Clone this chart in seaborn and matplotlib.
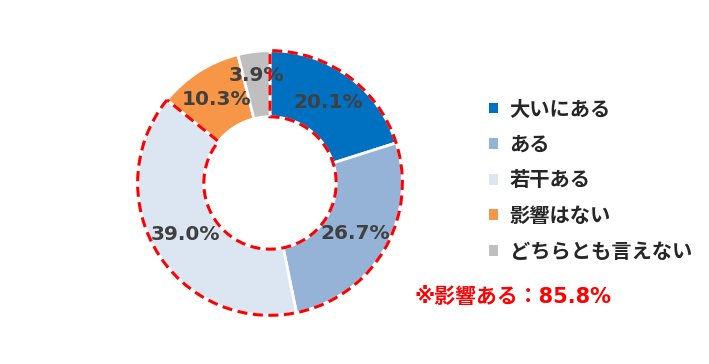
import matplotlib
matplotlib.use("Agg")
import matplotlib.pyplot as plt
from matplotlib.patches import Wedge, Patch
import numpy as np
import seaborn as sns

categories = ["大いにある", "ある", "若干ある", "影響はない", "どちらとも言えない"]
values = [20.1, 26.7, 39.0, 10.3, 3.9]
colors = ["#0070C0", "#95B3D7", "#DCE6F2", "#F79646", "#BFBFBF"]
annotation = "※影響ある：85.8%"
highlight_count = 3

sns.set_theme(style="white")
plt.rcParams['font.family'] = ['Noto Sans CJK JP', 'DejaVu Sans']

fig = plt.figure(figsize=(7.09, 3.64), dpi=100)
ax = fig.add_axes([(270 - 135) / 709, (364 - 183 - 135) / 364, 270 / 709, 270 / 364])

palette = sns.color_palette(colors)
wedges, texts = ax.pie(values, colors=palette, startangle=90, counterclock=False,
                       radius=1.0, wedgeprops=dict(width=0.5, edgecolor="white", linewidth=2))

total = sum(values)
cum = 0
for i, v in enumerate(values):
    mid = 90 - (cum + v / 2) / total * 360
    cum += v
    r = 0.75 if v > 5 else 0.82
    ax.text(r * np.cos(np.radians(mid)), r * np.sin(np.radians(mid)), f"{v:.1f}%",
            ha="center", va="center", fontsize=14.5, fontweight="bold", color="#404040",
            family=["DejaVu Sans"])

hl = sum(values[:highlight_count]) / total * 360
outline = Wedge((0, 0), 1.0, 90 - hl, 90, width=0.5, fill=False,
                edgecolor="#FF0000", linestyle=(0, (3.3, 1.8)), linewidth=2.2, zorder=5)
ax.add_patch(outline)

ax.set_xlim(-1.02, 1.02)
ax.set_ylim(-1.02, 1.02)
ax.set_aspect("equal")
ax.axis("off")

handles = [Patch(facecolor=c, edgecolor="none") for c in palette]
fig.legend(handles, categories, loc="upper left", bbox_to_anchor=(471 / 709, 1 - 80 / 364),
           frameon=False, handlelength=0.45, handleheight=0.45, handletextpad=0.55,
           labelspacing=0.72, prop=dict(size=14.6, weight="bold"))

fig.text(415 / 709, 1 - 297 / 364, annotation, color="#FF0000", fontsize=15,
         fontweight="bold", ha="left", va="center", family=["DejaVu Sans", "Noto Sans CJK JP"])

fig.savefig("out.png", dpi=100)
